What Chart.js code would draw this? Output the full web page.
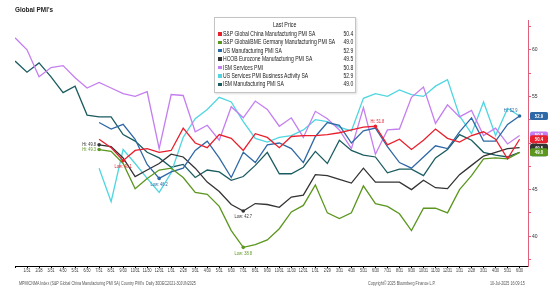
<!DOCTYPE html>
<html>
<head>
<meta charset="utf-8">
<script src="https://cdn.jsdelivr.net/npm/chart.js@4.4.1/dist/chart.umd.min.js"></script>
<style>
body { margin: 0; background: #fff; }
#wrap { position: relative; width: 550px; height: 292px; overflow: hidden; font-family: 'Liberation Sans', sans-serif; }
#mycanvas { position: absolute; left: 0; top: 0; }
.narrow { display: inline-block; transform-origin: left center; white-space: nowrap; }
#title { position: absolute; left: 15px; top: 5px; font-weight: bold; font-size: 7.5px; color: #222; }
#legend { position: absolute; left: 214px; top: 17px; width: 140px; height: 74px; border: 1px solid #c4c4c4; background: #fff; box-shadow: 1px 1px 2px #ddd; font-size: 6.3px; color: #222; }
#legend .hdr { position: absolute; left: 0; width: 140px; top: 3px; text-align: center; font-size: 6.6px; }
#legend .row { position: absolute; left: 3px; width: 135px; height: 8px; line-height: 8px; white-space: nowrap; }
#legend .sw { position: absolute; left: 0; top: 2.2px; width: 3.5px; height: 3.5px; }
#legend .name { position: absolute; left: 5px; top: 0; transform: scaleX(0.8); transform-origin: left center; }
#legend .val { position: absolute; right: 0; top: 0; transform: scaleX(0.8); transform-origin: right center; }
.foot { position: absolute; top: 281px; font-size: 4.6px; color: #555; white-space: nowrap; }
</style>
</head>
<body>
<div id="wrap">
  <canvas id="mycanvas" width="550" height="292"></canvas>
  <div id="title"><span class="narrow" style="transform:scaleX(0.85)">Global PMI's</span></div>
  <div id="legend"><div class="hdr"><span class="narrow" style="transform:scaleX(0.8);transform-origin:center">Last Price</span></div></div>
  <div class="foot" style="left:19px;"><span class="narrow" style="transform:scaleX(0.8)">MPMICNMA Index (S&amp;P Global China Manufacturing PMI SA) Country PMI's&nbsp;&nbsp;Daily 30DEC2021-30JUN2025</span></div>
  <div class="foot" style="left:368px;"><span class="narrow" style="transform:scaleX(0.8)">Copyright© 2025 Bloomberg Finance L.P.</span></div>
  <div class="foot" style="left:490px;"><span class="narrow" style="transform:scaleX(0.8)">10-Jul-2025 16:09:15</span></div>
</div>
<script>
var fontFam = "'Liberation Sans', sans-serif";

// month ends, 12/31/2021 .. 6/30/2025
var monthLabels = ['',
  '1/31','2/28','3/31','4/30','5/31','6/30','7/31','8/31','9/30','10/31','11/30','12/31',
  '1/31','2/28','3/31','4/30','5/31','6/30','7/31','8/31','9/30','10/31','11/30','12/31',
  '1/31','2/29','3/31','4/30','5/31','6/30','7/31','8/31','9/30','10/31','11/30','12/31',
  '1/31','2/28','3/31','4/30','5/31','6/30'];

var seriesNames = [
  'S&P Global China Manufacturing PMI SA',
  'S&P Global/BME Germany Manufacturing PMI SA',
  'US Manufacturing PMI SA',
  'HCOB Eurozone Manufacturing PMI SA',
  'ISM Services PMI',
  'US Services PMI Business Activity SA',
  'ISM Manufacturing PMI SA'
];
var seriesColors = ['#e8202e', '#5b961e', '#2f68a6', '#333333', '#c47ef0', '#4fd6e0', '#1b5c60'];

var chinaMfg = [null, null, null, null, null, null, null,
  50.4, 49.5, 48.1, 49.2, 49.4, 49.0, 49.2, 51.6, 50.0, 49.5, 50.9, 50.5,
  49.2, 51.0, 50.6, 49.5, 50.7, 50.8, 50.8, 50.9, 51.1, 51.4, 51.7, 51.8,
  49.8, 50.4, 49.3, 50.3, 51.5, 50.5, 50.1, 50.8, 51.2, 50.4, 48.3, 50.4];
var germanyMfg = [null, null, null, null, null, null, null,
  49.3, 49.1, 47.8, 45.1, 46.2, 47.1, 47.3, 46.3, 44.7, 44.5, 43.2, 40.6,
  38.8, 39.1, 39.6, 40.8, 42.6, 43.3, 45.5, 42.5, 41.9, 42.5, 45.4, 43.5,
  43.2, 42.4, 40.6, 43.0, 43.0, 42.5, 45.0, 46.5, 48.3, 48.4, 48.3, 49.0];
var usMfg = [null, null, null, null, null, null, null,
  52.2, 51.5, 52.0, 50.4, 47.7, 46.2, 46.9, 47.3, 49.2, 50.2, 48.4, 46.3,
  49.0, 47.9, 49.8, 50.0, 49.4, 47.9, 50.7, 52.2, 51.9, 50.0, 51.3, 51.6,
  49.6, 47.9, 47.3, 48.5, 49.7, 49.4, 51.2, 52.7, 50.2, 50.2, 52.0, 52.9];
var euroMfg = [null, null, null, null, null, null, null,
  49.8, 49.6, 48.4, 46.4, 47.1, 47.8, 48.8, 48.5, 47.3, 45.8, 44.8, 43.4,
  42.7, 43.5, 43.4, 43.1, 44.2, 44.4, 46.6, 46.5, 46.1, 45.7, 47.3, 45.8,
  45.8, 45.8, 45.0, 46.0, 45.2, 45.1, 46.6, 47.6, 48.6, 49.0, 49.4, 49.5];
var ismServices = [61.3, 60.0, 57.1, 58.1, 58.3, 57.0, 55.9,
  56.5, 55.9, 55.3, 55.0, 55.5, 49.4, 55.2, 55.1, 51.2, 51.9, 50.3, 53.9,
  52.7, 54.5, 53.6, 51.8, 52.7, 50.6, 53.4, 52.6, 51.4, 49.4, 53.8, 48.8,
  51.4, 51.5, 54.9, 56.0, 52.1, 54.1, 52.8, 53.5, 50.8, 51.6, 49.9, 50.8];
var usServices = [null, null, null, null, null, null, null,
  47.3, 43.7, 49.3, 47.8, 46.2, 44.7, 46.8, 50.6, 52.6, 53.6, 54.9, 54.4,
  52.3, 50.5, 50.1, 50.6, 50.8, 51.4, 52.5, 52.3, 51.7, 51.3, 54.8, 55.3,
  55.0, 55.7, 55.2, 55.0, 56.1, 56.8, 52.9, 51.0, 54.4, 50.8, 53.7, 52.9];
var ismMfg = [58.8, 57.6, 58.6, 57.1, 55.4, 56.1, 53.0,
  52.8, 52.8, 50.9, 50.2, 49.0, 48.4, 47.4, 47.7, 46.3, 47.1, 46.9, 46.0,
  46.4, 47.6, 49.0, 46.7, 46.7, 47.4, 49.1, 47.8, 50.3, 49.2, 48.7, 48.5,
  46.8, 47.2, 47.2, 46.5, 48.4, 49.3, 50.9, 50.3, 49.0, 48.7, 48.5, 49.0];

var allSeries = [chinaMfg, germanyMfg, usMfg, euroMfg, ismServices, usServices, ismMfg];
var showHiLo = [true, true, true, true, false, false, false];
// draw order for the last value tags (bottom first)
var tagOrder = [5, 6, 4, 3, 0, 2, 1];

/* legend box */
var legend = document.getElementById('legend');
for (var k = 0; k < seriesNames.length; k++) {
  var arr = allSeries[k];
  var row = document.createElement('div');
  row.className = 'row';
  row.style.top = (12 + k * 8.4) + 'px';
  row.innerHTML = '<span class="sw" style="background:' + seriesColors[k] + '"></span>' +
    '<span class="name">' + seriesNames[k].replace('&', '&amp;') + '</span>' +
    '<span class="val">' + arr[arr.length - 1].toFixed(1) + '</span>';
  legend.appendChild(row);
}

function toPoints(arr) {
  return arr.map(function(v, i) { return {x: i, y: v}; });
}

// squeezed text, the bloomberg font is narrow
function narrowText(ctx, txt, x, y, align, sx) {
  ctx.save();
  ctx.translate(x, y);
  ctx.scale(sx, 1);
  ctx.textAlign = align;
  ctx.fillText(txt, 0, 0);
  ctx.restore();
}

var datasets = [];
for (var k = 0; k < allSeries.length; k++) {
  datasets.push({
    label: seriesNames[k],
    data: toPoints(allSeries[k]),
    borderColor: seriesColors[k],
    backgroundColor: seriesColors[k],
    borderWidth: 1.3,
    pointRadius: 0,
    tension: 0,
    fill: false,
    hiLo: showHiLo[k]
  });
}

/* Hi / Low markers, x labels and last value tags */
var markerPlugin = {
  id: 'markers',
  afterDatasetsDraw: function(chart) {
    var ctx = chart.ctx, xs = chart.scales.x, ys = chart.scales.y;
    ctx.save();
    ctx.font = '5px ' + fontFam;
    ctx.textBaseline = 'middle';
    chart.data.datasets.forEach(function(ds) {
      if (!ds.hiLo) return;
      var vals = ds.data.map(function(p) { return p.y; });
      var hi = -1, lo = -1, first = -1;
      vals.forEach(function(v, i) {
        if (v === null) return;
        if (first < 0) first = i;
        if (hi < 0 || v > vals[hi]) hi = i;
        if (lo < 0 || v < vals[lo]) lo = i;
      });
      ctx.fillStyle = ds.borderColor;
      [hi, lo].forEach(function(i) {
        ctx.beginPath();
        ctx.arc(xs.getPixelForValue(i), ys.getPixelForValue(vals[i]), 1.8, 0, Math.PI * 2);
        ctx.fill();
      });
      var hx = xs.getPixelForValue(hi), hy = ys.getPixelForValue(vals[hi]);
      var hiTxt = 'Hi: ' + vals[hi].toFixed(1);
      if (hi === first) {
        narrowText(ctx, hiTxt, hx - 3, hy, 'right', 0.8);
      } else if (hi === vals.length - 1) {
        narrowText(ctx, hiTxt, hx - 2, hy - 5, 'right', 0.8);
      } else {
        narrowText(ctx, hiTxt, hx + 2, hy - 5, 'center', 0.8);
      }
      narrowText(ctx, 'Low: ' + vals[lo].toFixed(1), xs.getPixelForValue(lo), ys.getPixelForValue(vals[lo]) + 6, 'center', 0.8);
    });

    // month labels under the axis
    ctx.fillStyle = '#333';
    monthLabels.forEach(function(l, i) {
      if (l) narrowText(ctx, l, xs.getPixelForValue(i), chart.chartArea.bottom + 5, 'center', 0.72);
    });

    // last value tags on the right axis
    ctx.font = 'bold 5px ' + fontFam;
    tagOrder.forEach(function(k) {
      var arr = allSeries[k];
      var v = arr[arr.length - 1];
      var y = ys.getPixelForValue(v);
      var x0 = chart.chartArea.right + 2;
      ctx.fillStyle = seriesColors[k];
      ctx.beginPath();
      ctx.roundRect(x0, y - 4, 18, 8, 2);
      ctx.fill();
      ctx.fillStyle = '#fff';
      narrowText(ctx, v.toFixed(1), x0 + 9, y + 0.5, 'center', 0.85);
    });
    ctx.restore();
  }
};

var ctx = document.getElementById('mycanvas');

var PmiChart = new Chart(ctx, {
  type: 'line',
  data: { datasets: datasets },
  plugins: [markerPlugin],
  options: {
    responsive: false,
    animation: false,
    layout: { padding: { left: 15, top: 20, right: 0, bottom: 0 } },
    scales: {
      x: {
        type: 'linear',
        min: 0,
        max: 42.7,
        afterBuildTicks: function(scale) {
          scale.ticks = monthLabels.map(function(l, i) { return {value: i}; });
        },
        afterFit: function(scale) { scale.height = 26; },
        ticks: { display: false },
        grid: { display: true, drawOnChartArea: false, drawTicks: true, tickLength: 2, color: '#000' },
        border: { display: true, color: '#000', width: 1 }
      },
      y: {
        position: 'right',
        min: 36.8,
        max: 63.2,
        afterBuildTicks: function(scale) {
          var t = [];
          for (var v = 37.5; v <= 62.5; v += 2.5) t.push({value: v});
          scale.ticks = t;
        },
        afterFit: function(scale) { scale.width = 22; },
        ticks: {
          padding: 1,
          color: '#333',
          font: { size: 5, family: fontFam },
          callback: function(value) { return value % 5 === 0 ? String(value) : ''; }
        },
        grid: { display: true, drawOnChartArea: false, drawTicks: true, tickLength: 3, color: '#e0607a' },
        border: { display: true, color: '#e0607a', width: 1 }
      }
    },
    plugins: {
      legend: { display: false },
      title: { display: false },
      tooltip: { enabled: false }
    }
  }
});
</script>
</body>
</html>
